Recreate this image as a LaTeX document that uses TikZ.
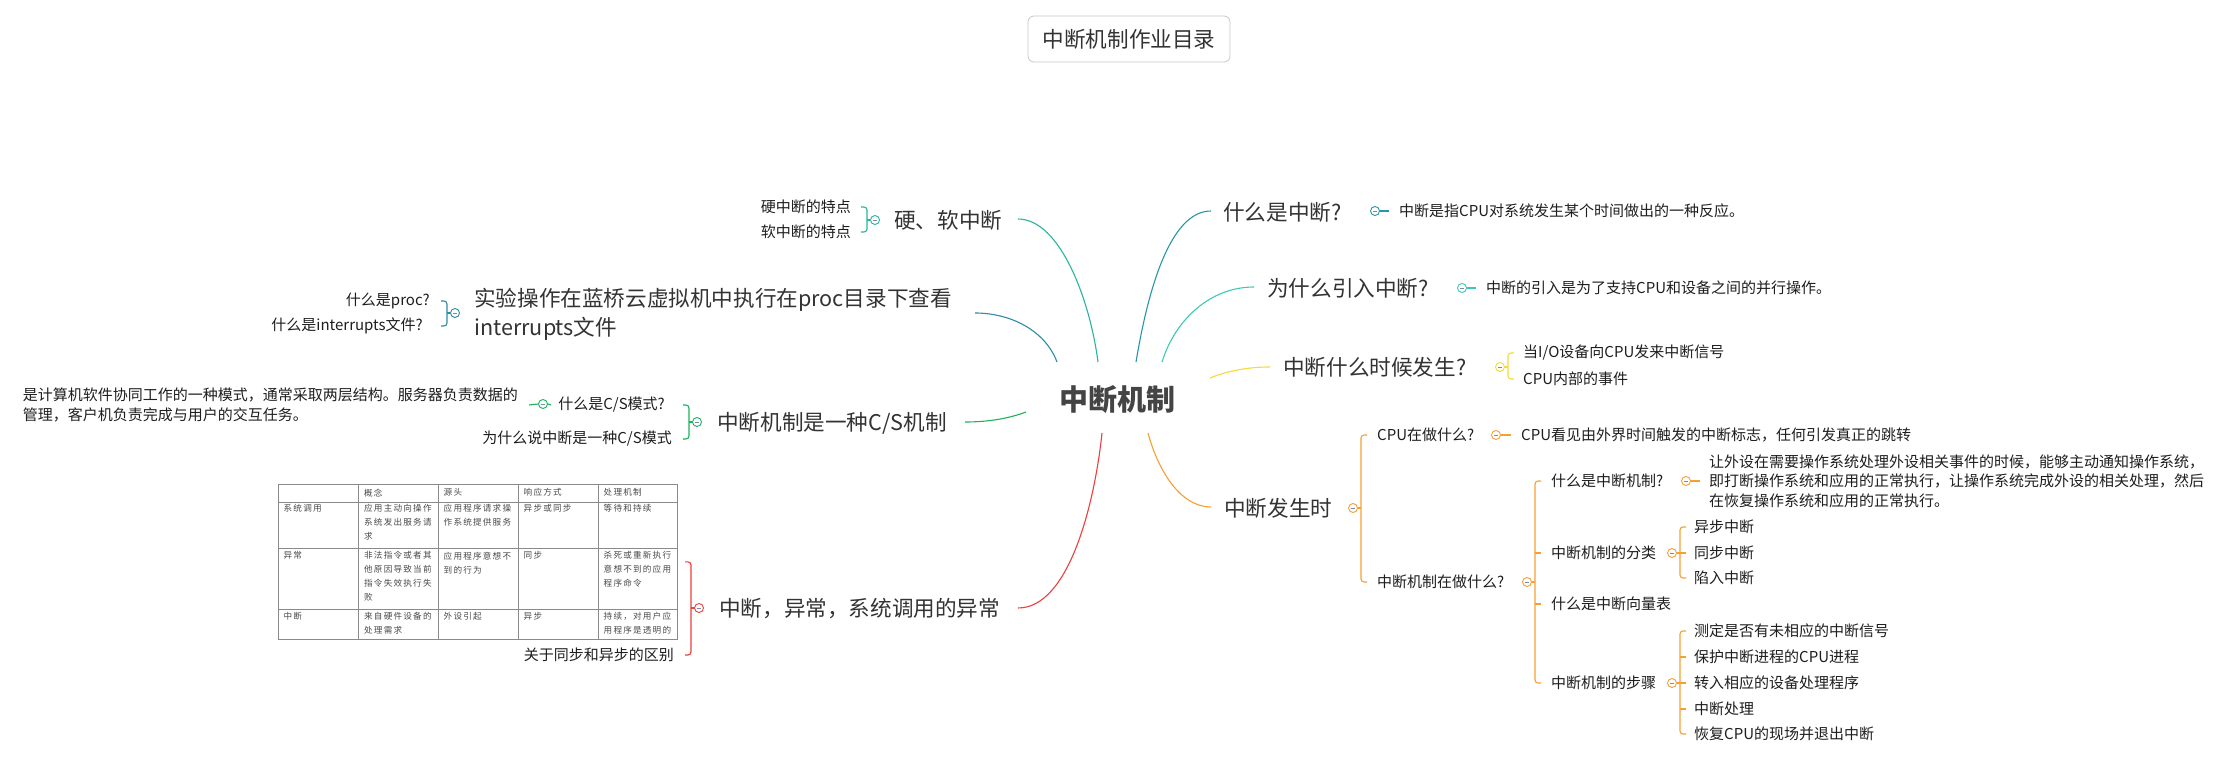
\documentclass[tikz,border=0pt]{standalone}
\usepackage{fontspec}
\setmainfont{Noto Sans CJK SC}
\newfontfamily\tabfont{Noto Sans CJK SC}[LetterSpace=14]
\newcommand\myftitle{\fontsize{21.6}{26}\selectfont}
\newcommand\myfroot{\fontsize{29}{34}\selectfont\bfseries}
\newcommand\myfmain{\fontsize{21.6}{29}\selectfont}
\newcommand\myfkid{\fontsize{15}{19.5}\selectfont}
\newcommand\myfkidb{\fontsize{15}{20}\selectfont}
\newcommand\myftab{\tabfont\fontsize{8.6}{14}\selectfont}
\definecolor{cText}{HTML}{333333}
\definecolor{cRoot}{HTML}{444444}
\definecolor{cKid}{HTML}{1E1E1E}
\definecolor{cBox}{HTML}{C8C8C8}
\definecolor{cMinus}{HTML}{7C86A8}
\definecolor{cTbl}{HTML}{8A8A8A}
\definecolor{cTab}{HTML}{4A4A4A}
\definecolor{cHard}{HTML}{2BB3A0}
\definecolor{cExp}{HTML}{2E8DA6}
\definecolor{cGreen}{HTML}{1DB35B}
\definecolor{cRed}{HTML}{F23D3D}
\definecolor{cTealB}{HTML}{2B95A8}
\definecolor{cTurq}{HTML}{3DC9B8}
\definecolor{cYel}{HTML}{F5DA3A}
\definecolor{cOra}{HTML}{F7A032}
\tikzset{
  main/.style={inner sep=0pt, text=cText, font=\myfmain},
  kid/.style={inner sep=0pt, text=cKid, font=\myfkid},
  cc/.style={circle, draw=#1, fill=white, minimum size=9pt, inner sep=0pt, line width=0.9pt,
    path picture={\draw[cMinus, line width=0.8pt] ([xshift=-2.2pt]path picture bounding box.center) -- ([xshift=2.2pt]path picture bounding box.center);}},
  lk/.style={draw=#1, line width=1.1pt},
  br/.style={draw=#1, line width=1.1pt, rounded corners=3pt},
  cell/.style={inner sep=0pt, anchor=north west, align=left, text=cTab, font=\myftab},
  tline/.style={draw=cTbl, line width=0.7pt}
}
\begin{document}
\begin{tikzpicture}[x=1pt,y=-1pt]
\useasboundingbox[fill=white] (0,0) rectangle (2230,762);

% title
\node[draw=cBox, rounded corners=6pt, line width=0.8pt, minimum width=202pt, minimum height=46pt,
      font=\myftitle, text=cText, inner sep=0pt] (title) at (1129,39) {中断机制作业目录};

% root
\node[inner sep=0pt, text=cRoot, font=\myfroot] (root) at (1117.5,400) {中断机制};
\coordinate (rA) at (1057,362);
\coordinate (rB) at (1098,362);
\coordinate (rC) at (1136,362);
\coordinate (rD) at (1162,362);
\coordinate (rE) at (1210,378);
\coordinate (rF) at (1148,433);
\coordinate (rG) at (1102,433);
\coordinate (rH) at (1026,412);

% ---------- right side ----------
\node[main, anchor=west] (q1) at (1223,212) {什么是中断?};
\node[cc=cTealB] (q1c) at (1375,211) {};
\node[kid, anchor=west] (q1k) at (1399,211) {中断是指CPU对系统发生某个时间做出的一种反应。};

\node[main, anchor=west] (q2) at (1267,288) {为什么引入中断?};
\node[cc=cTurq] (q2c) at (1462,288) {};
\node[kid, anchor=west] (q2k) at (1486,288) {中断的引入是为了支持CPU和设备之间的并行操作。};

\node[main, anchor=west] (q3) at (1283,367) {中断什么时候发生?};
\node[cc=cYel] (q3c) at (1500,367) {};
\node[kid, anchor=west] (q3a) at (1523,353) {当I/O设备向CPU发来中断信号};
\node[kid, anchor=west] (q3b) at (1523,379) {CPU内部的事件};

\node[main, anchor=west] (q4) at (1224,508) {中断发生时};
\node[cc=cOra] (q4c) at (1353,508) {};
\node[kid, anchor=west] (q4a) at (1377,435) {CPU在做什么?};
\node[kid, anchor=west] (q4b) at (1377,582) {中断机制在做什么?};
\node[cc=cOra] (q4ac) at (1496,435) {};
\node[kid, anchor=west] (q4ak) at (1521,435) {CPU看见由外界时间触发的中断标志，任何引发真正的跳转};
\node[cc=cOra] (q4bc) at (1527,582) {};
\node[kid, anchor=west] (m1) at (1551,481) {什么是中断机制?};
\node[kid, anchor=west] (m2) at (1551,553) {中断机制的分类};
\node[kid, anchor=west] (m3) at (1551,604) {什么是中断向量表};
\node[kid, anchor=west] (m4) at (1551,683) {中断机制的步骤};
\node[cc=cOra] (m1c) at (1686,481) {};
\node[kid, anchor=west, align=left] (m1k) at (1709,481) {让外设在需要操作系统处理外设相关事件的时候，能够主动通知操作系统，\\即打断操作系统和应用的正常执行，让操作系统完成外设的相关处理，然后\\在恢复操作系统和应用的正常执行。};
\node[cc=cOra] (m2c) at (1672,553) {};
\node[kid, anchor=west] (m2a) at (1694,527) {异步中断};
\node[kid, anchor=west] (m2b) at (1694,553) {同步中断};
\node[kid, anchor=west] (m2d) at (1694,578) {陷入中断};
\node[cc=cOra] (m4c) at (1672,683) {};
\node[kid, anchor=west] (m4a) at (1694,631) {测定是否有未相应的中断信号};
\node[kid, anchor=west] (m4b) at (1694,657) {保护中断进程的CPU进程};
\node[kid, anchor=west] (m4d) at (1694,683) {转入相应的设备处理程序};
\node[kid, anchor=west] (m4e) at (1694,709) {中断处理};
\node[kid, anchor=west] (m4f) at (1694,734) {恢复CPU的现场并退出中断};

% ---------- left side ----------
\node[main, anchor=west] (p1) at (894,220) {硬、软中断};
\node[cc=cHard] (p1c) at (875,220) {};
\node[kid, anchor=east] (p1a) at (851,207) {硬中断的特点};
\node[kid, anchor=east] (p1b) at (851,232) {软中断的特点};

\node[main, anchor=west, align=left] (p2) at (474,314.5) {实验操作在蓝桥云虚拟机中执行在proc目录下查看\\interrupts文件};
\node[cc=cExp] (p2c) at (455,313) {};
\node[kid, anchor=east] (p2a) at (430,301) {什么是proc?};
\node[kid, anchor=east] (p2b) at (423,326) {什么是interrupts文件?};

\node[main, anchor=west] (p3) at (717,423) {中断机制是一种C/S机制};
\node[cc=cGreen] (p3c) at (697,422) {};
\node[kid, anchor=east] (p3a) at (665,405) {什么是C/S模式?};
\node[kid, anchor=east] (p3b) at (672,439) {为什么说中断是一种C/S模式};
\node[cc=cGreen] (p3ac) at (543,404) {};
\node[kid, anchor=east, align=left, font=\myfkidb] (p3ak) at (518,405) {是计算机软件协同工作的一种模式，通常采取两层结构。服务器负责数据的\\管理，客户机负责完成与用户的交互任务。};

\node[main, anchor=west] (p4) at (719,609) {中断，异常，系统调用的异常};
\node[cc=cRed] (p4c) at (699,608) {};
\node[kid, anchor=east] (p4b) at (674,655) {关于同步和异步的区别};

% table
\node[draw=cTbl, line width=0.8pt, minimum width=399pt, minimum height=155pt, inner sep=0pt, anchor=north west] (tbl) at (278,484) {};
\draw[tline] (278,502) -- (677,502);
\draw[tline] (278,548) -- (677,548);
\draw[tline] (278,609) -- (677,609);
\foreach \cx in {358,438,518,598} \draw[tline] (\cx,484) -- (\cx,639);
\node[cell] (t01) at (364,488.5) {概念};
\node[cell] (t02) at (443.5,488.5) {源头};
\node[cell] (t03) at (523.5,488.5) {响应方式};
\node[cell] (t04) at (603.5,488.5) {处理机制};
\node[cell] (t10) at (283.5,504.5) {系统调用};
\node[cell] (t11) at (364,504.5) {应用主动向操作\\系统发出服务请\\求};
\node[cell] (t12) at (443.5,504.5) {应用程序请求操\\作系统提供服务};
\node[cell] (t13) at (523.5,504.5) {异步或同步};
\node[cell] (t14) at (603.5,504.5) {等待和持续};
\node[cell] (t20) at (283.5,551.5) {异常};
\node[cell] (t21) at (364,551.5) {非法指令或者其\\他原因导致当前\\指令失效执行失\\败};
\node[cell] (t22) at (443.5,551.5) {应用程序意想不\\到的行为};
\node[cell] (t23) at (523.5,551.5) {同步};
\node[cell] (t24) at (603.5,551.5) {杀死或重新执行\\意想不到的应用\\程序命令};
\node[cell] (t30) at (283.5,612.5) {中断};
\node[cell] (t31) at (364,612.5) {来自硬件设备的\\处理需求};
\node[cell] (t32) at (443.5,612.5) {外设引起};
\node[cell] (t33) at (523.5,612.5) {异步};
\node[cell] (t34) at (603.5,612.5) {持续，对用户应\\用程序是透明的};

% ---------- main connectors ----------
\coordinate (q1e) at (1211,211);
\coordinate (q2e) at (1254,287);
\coordinate (q3e) at (1270,367);
\coordinate (q4e) at (1211,507);
\coordinate (p1e) at (1018,219);
\coordinate (p2e) at (975,313);
\coordinate (p3e) at (965,422);
\coordinate (p4e) at (1018,608);
\draw[lk=cTealB] (rC) .. controls (1148,290) and (1170,211) .. (q1e);
\draw[lk=cTurq] (rD) .. controls (1175,320) and (1210,287) .. (q2e);
\draw[lk=cYel] (rE) .. controls (1230,370) and (1250,367) .. (q3e);
\draw[lk=cOra] (rF) .. controls (1158,470) and (1180,507) .. (q4e);
\draw[lk=cRed] (rG) .. controls (1095,500) and (1070,608) .. (p4e);
\draw[lk=cGreen] (rH) .. controls (1010,418) and (990,422) .. (p3e);
\draw[lk=cExp] (rA) .. controls (1045,330) and (1010,313) .. (p2e);
\draw[lk=cHard] (rB) .. controls (1090,300) and (1060,219) .. (p1e);

% ---------- single-child links ----------
\draw[lk=cTealB] (q1c.east) -- ([xshift=-10pt]q1k.west);
\draw[lk=cTurq] (q2c.east) -- ([xshift=-10pt]q2k.west);
\draw[lk=cOra] (q4ac.east) -- ([xshift=-10pt]q4ak.west);
\draw[lk=cOra] (m1c.east) -- ([xshift=-9pt]m1k.west);
\draw[lk=cGreen] ([xshift=11pt]p3ak.east) -- (p3ac.west);
\draw[lk=cGreen] (p3ac.east) -- ([xshift=-7pt]p3a.west);

% ---------- right brackets ----------
\coordinate (q3x) at ([xshift=8pt]q3c.center);
\coordinate (q3s) at ([xshift=14pt]q3c.center);
\draw[lk=cYel] (q3c.east) -- (q3x);
\draw[br=cYel] (q3s |- q3a.west) -- (q3x |- q3a.west) -- (q3x |- q3b.west) -- (q3s |- q3b.west);

\coordinate (q4x) at ([xshift=8pt]q4c.center);
\coordinate (q4s) at ([xshift=14pt]q4c.center);
\draw[lk=cOra] (q4c.east) -- (q4x);
\draw[br=cOra] (q4s |- q4a.west) -- (q4x |- q4a.west) -- (q4x |- q4b.west) -- (q4s |- q4b.west);

\coordinate (q4bx) at ([xshift=8pt]q4bc.center);
\coordinate (q4bs) at ([xshift=14pt]q4bc.center);
\draw[lk=cOra] (q4bc.east) -- (q4bx);
\draw[br=cOra] (q4bs |- m1.west) -- (q4bx |- m1.west) -- (q4bx |- m4.west) -- (q4bs |- m4.west);
\draw[lk=cOra] (q4bx |- m2.west) -- (q4bs |- m2.west);
\draw[lk=cOra] (q4bx |- m3.west) -- (q4bs |- m3.west);

\coordinate (m2x) at ([xshift=8pt]m2c.center);
\coordinate (m2s) at ([xshift=14pt]m2c.center);
\draw[lk=cOra] (m2c.east) -- (m2x);
\draw[br=cOra] (m2s |- m2a.west) -- (m2x |- m2a.west) -- (m2x |- m2d.west) -- (m2s |- m2d.west);
\draw[lk=cOra] (m2x |- m2b.west) -- (m2s |- m2b.west);

\coordinate (m4x) at ([xshift=8pt]m4c.center);
\coordinate (m4s) at ([xshift=14pt]m4c.center);
\draw[lk=cOra] (m4c.east) -- (m4x);
\draw[br=cOra] (m4s |- m4a.west) -- (m4x |- m4a.west) -- (m4x |- m4f.west) -- (m4s |- m4f.west);
\draw[lk=cOra] (m4x |- m4b.west) -- (m4s |- m4b.west);
\draw[lk=cOra] (m4x |- m4d.west) -- (m4s |- m4d.west);
\draw[lk=cOra] (m4x |- m4e.west) -- (m4s |- m4e.west);

% ---------- left brackets ----------
\coordinate (p1x) at ([xshift=-8pt]p1c.center);
\coordinate (p1s) at ([xshift=-14pt]p1c.center);
\draw[lk=cHard] (p1c.west) -- (p1x);
\draw[br=cHard] (p1s |- p1a.east) -- (p1x |- p1a.east) -- (p1x |- p1b.east) -- (p1s |- p1b.east);

\coordinate (p2x) at ([xshift=-8pt]p2c.center);
\coordinate (p2s) at ([xshift=-14pt]p2c.center);
\draw[lk=cExp] (p2c.west) -- (p2x);
\draw[br=cExp] (p2s |- p2a.east) -- (p2x |- p2a.east) -- (p2x |- p2b.east) -- (p2s |- p2b.east);

\coordinate (p3x) at ([xshift=-8pt]p3c.center);
\coordinate (p3s) at ([xshift=-14pt]p3c.center);
\draw[lk=cGreen] (p3c.west) -- (p3x);
\draw[br=cGreen] (p3s |- p3a.east) -- (p3x |- p3a.east) -- (p3x |- p3b.east) -- (p3s |- p3b.east);

\coordinate (p4x) at ([xshift=-8pt]p4c.center);
\coordinate (p4s) at ([xshift=-14pt]p4c.center);
\draw[lk=cRed] (p4c.west) -- (p4x);
\draw[br=cRed] (p4s |- tbl.east) -- (p4x |- tbl.east) -- (p4x |- p4b.east) -- (p4s |- p4b.east);
\end{tikzpicture}
\end{document}
